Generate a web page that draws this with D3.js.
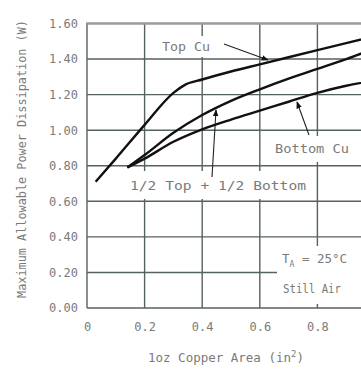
<!DOCTYPE html>
<html>
<head>
<meta charset="utf-8">
<script src="https://cdn.jsdelivr.net/npm/d3@7"></script>
<style>
  html, body { margin: 0; padding: 0; background: #fff; }
  svg { display: block; }
  text { font-family: "DejaVu Sans Mono", monospace; fill: #7a7a7a; }
</style>
</head>
<body>
<svg id="vis"></svg>
<script>
const width = 361;
const height = 369;

// data
const xTicks = [0, 0.2, 0.4, 0.6, 0.8, 1.0];
const xTickLabels = ['0', '0.2', '0.4', '0.6', '0.8'];
const yTicks = [0, 0.2, 0.4, 0.6, 0.8, 1.0, 1.2, 1.4, 1.6];
const yTickLabels = ['0.00', '0.20', '0.40', '0.60', '0.80', '1.00', '1.20', '1.40', '1.60'];

const topCuX = [0.03, 0.1, 0.2, 0.3, 0.34, 0.4, 0.5, 0.6, 0.7, 0.8, 0.9, 1.0];
const topCuY = [0.71, 0.84, 1.03, 1.21, 1.255, 1.285, 1.33, 1.37, 1.41, 1.45, 1.49, 1.53];
const halfX = [0.14, 0.2, 0.3, 0.4, 0.5, 0.6, 0.7, 0.8, 0.9, 1.0];
const halfY = [0.79, 0.86, 0.985, 1.085, 1.165, 1.23, 1.29, 1.345, 1.40, 1.46];
const bottomCuX = [0.14, 0.2, 0.3, 0.4, 0.5, 0.6, 0.7, 0.8, 0.9, 1.0];
const bottomCuY = [0.79, 0.84, 0.935, 1.005, 1.06, 1.11, 1.16, 1.21, 1.25, 1.28];

const margin = {top: 23.5, left: 87, bottom: 61};
const xScale = d3.scaleLinear().domain([0, 1]).range([margin.left, 375]);
const yScale = d3.scaleLinear().domain([0, 1.6]).range([height - margin.bottom, margin.top]);

const svg = d3.select('#vis').attr('width', width).attr('height', height);
svg.append('defs').append('marker')
  .attr('id', 'arrow').attr('viewBox', '0 0 10 10')
  .attr('refX', 9).attr('refY', 5)
  .attr('markerWidth', 7).attr('markerHeight', 7)
  .attr('markerUnits', 'userSpaceOnUse')
  .attr('orient', 'auto')
  .append('path').attr('d', 'M0,1 L10,5 L0,9 Z').attr('fill', '#111');

const gridColor = '#56625e';

// grid
const grid = svg.append('g');
grid.selectAll('line.v').data(xTicks).enter().append('line')
  .attr('x1', d => xScale(d)).attr('x2', d => xScale(d))
  .attr('y1', yScale(1.6)).attr('y2', yScale(0))
  .attr('stroke', gridColor).attr('stroke-width', 1.4);
grid.selectAll('line.h').data(yTicks.slice(0, -1)).enter().append('line')
  .attr('x1', xScale(0)).attr('x2', xScale(1))
  .attr('y1', d => yScale(d)).attr('y2', d => yScale(d))
  .attr('stroke', gridColor).attr('stroke-width', 1.4);
grid.append('line')
  .attr('x1', xScale(0) - 1).attr('x2', xScale(1))
  .attr('y1', yScale(1.6)).attr('y2', yScale(1.6))
  .attr('stroke', '#9a9a9a').attr('stroke-width', 2.6);

// tick labels
const yAxis = d3.axisLeft(yScale).tickValues(yTicks)
  .tickFormat((d, i) => yTickLabels[i]).tickSize(0).tickPadding(9);
const gy = svg.append('g').attr('transform', `translate(${xScale(0)},0)`).call(yAxis);
gy.select('.domain').remove();
gy.selectAll('text').attr('font-size', 12).attr('fill', '#7a7a7a')
  .attr('font-family', '"DejaVu Sans Mono", monospace');

const xAxis = d3.axisBottom(xScale).tickValues(xTicks.slice(0, xTickLabels.length))
  .tickFormat((d, i) => xTickLabels[i]).tickSize(0).tickPadding(14);
const gx = svg.append('g').attr('transform', `translate(0,${yScale(0)})`).call(xAxis);
gx.select('.domain').remove();
gx.selectAll('text').attr('font-size', 12).attr('fill', '#7a7a7a')
  .attr('font-family', '"DejaVu Sans Mono", monospace');

// axis titles
svg.append('text')
  .attr('transform', 'translate(26,159) rotate(-90)')
  .attr('text-anchor', 'middle').attr('font-size', 11.5)
  .attr('textLength', 278).attr('lengthAdjust', 'spacingAndGlyphs')
  .text('Maximum Allowable Power Dissipation (W)');
const xt = svg.append('text')
  .attr('x', 148).attr('y', 362).attr('font-size', 12.5);
xt.append('tspan').text('1oz Copper Area (in');
xt.append('tspan').attr('dy', -5).attr('font-size', 9).text('2');
xt.append('tspan').attr('dy', 5).text(')');

// label boxes (white) that break the grid
const boxes = [
  {x: 156, y: 36, w: 60, h: 21},
  {x: 272, y: 136, w: 89, h: 26},
  {x: 125, y: 171, w: 186, h: 28},
  {x: 277, y: 246, w: 84, h: 58}
];
svg.selectAll('rect.box').data(boxes).enter().append('rect')
  .attr('x', d => d.x).attr('y', d => d.y).attr('width', d => d.w).attr('height', d => d.h)
  .attr('fill', '#fff');

// annotations
function label(x, y, txt, len) {
  return svg.append('text').attr('x', x).attr('y', y).attr('font-size', 12)
    .attr('textLength', len).attr('lengthAdjust', 'spacingAndGlyphs').text(txt);
}
label(162, 51, 'Top Cu', 48);
label(275, 153, 'Bottom Cu', 74);
label(130, 190, '1/2 Top + 1/2 Bottom', 176);
const ta = svg.append('text').attr('x', 282).attr('y', 263).attr('font-size', 12.5);
ta.append('tspan').text('T');
ta.append('tspan').attr('dy', 4).attr('font-size', 8).text('A');
ta.append('tspan').attr('dy', -4).text(' = 25\u00B0C');
label(283, 293, 'Still Air', 58);

// arrows
const arrows = [
  [[224, 44], [268, 60]],
  [[309, 135], [297, 102]],
  [[212, 177], [216, 110]]
];
svg.selectAll('line.arrow').data(arrows).enter().append('line')
  .attr('x1', d => d[0][0]).attr('y1', d => d[0][1])
  .attr('x2', d => d[1][0]).attr('y2', d => d[1][1])
  .attr('stroke', '#222').attr('stroke-width', 1.1)
  .attr('marker-end', 'url(#arrow)');

// curves
const line = d3.line().x(d => xScale(d[0])).y(d => yScale(d[1])).curve(d3.curveMonotoneX);
const series = [
  d3.zip(topCuX, topCuY),
  d3.zip(halfX, halfY),
  d3.zip(bottomCuX, bottomCuY)
];
svg.selectAll('path.curve').data(series).enter().append('path')
  .attr('d', line).attr('fill', 'none')
  .attr('stroke', '#111').attr('stroke-width', 2.4);
</script>
</body>
</html>
